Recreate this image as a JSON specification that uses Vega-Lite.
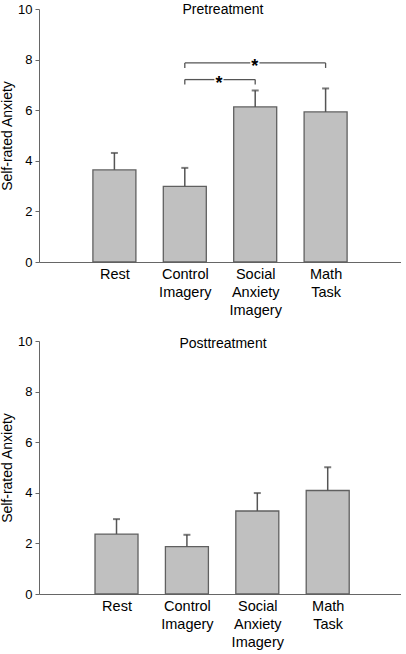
{
  "$schema": "https://vega.github.io/schema/vega-lite/v6.json",
  "background": "white",
  "padding": {"left": 0, "top": 2, "right": 0, "bottom": 0},
  "bounds": "flush",
  "spacing": 79,
  "config": {
    "font": "Liberation Sans",
    "view": {"stroke": null},
    "axis": {"grid": false, "domainColor": "#666666", "tickColor": "#666666", "labelColor": "#000000", "titleColor": "#000000", "labelFont": "Liberation Sans", "titleFont": "Liberation Sans"},
    "title": {"font": "Liberation Sans", "fontSize": 14, "fontWeight": "normal", "color": "#000000"}
  },
  "datasets": {
    "bars": [
      {"panel": "Pretreatment", "pos": 1, "condition": "Rest", "mean": 3.64, "upper": 4.31},
      {"panel": "Pretreatment", "pos": 2, "condition": "Control Imagery", "mean": 2.99, "upper": 3.72},
      {"panel": "Pretreatment", "pos": 3, "condition": "Social Anxiety Imagery", "mean": 6.13, "upper": 6.78},
      {"panel": "Pretreatment", "pos": 4, "condition": "Math Task", "mean": 5.93, "upper": 6.86},
      {"panel": "Posttreatment", "pos": 1, "condition": "Rest", "mean": 2.37, "upper": 2.96},
      {"panel": "Posttreatment", "pos": 2, "condition": "Control Imagery", "mean": 1.87, "upper": 2.34},
      {"panel": "Posttreatment", "pos": 3, "condition": "Social Anxiety Imagery", "mean": 3.28, "upper": 3.99},
      {"panel": "Posttreatment", "pos": 4, "condition": "Math Task", "mean": 4.09, "upper": 5.01}
    ],
    "brackets": [
      {"x": 2, "x2": 2, "y": 7.02, "y2": 7.21},
      {"x": 2, "x2": 2.42, "y": 7.21, "y2": 7.21},
      {"x": 2.55, "x2": 3, "y": 7.21, "y2": 7.21},
      {"x": 3, "x2": 3, "y": 7.21, "y2": 7.02},
      {"x": 2, "x2": 2, "y": 7.67, "y2": 7.87},
      {"x": 2, "x2": 2.93, "y": 7.87, "y2": 7.87},
      {"x": 3.06, "x2": 4, "y": 7.87, "y2": 7.87},
      {"x": 4, "x2": 4, "y": 7.87, "y2": 7.67}
    ],
    "stars": [
      {"x": 2.485, "y": 7.21, "label": "*"},
      {"x": 2.995, "y": 7.87, "label": "*"}
    ]
  },
  "vconcat": [
    {
      "width": 362,
      "height": 253,
      "title": {"text": "Pretreatment", "anchor": "middle", "baseline": "alphabetic", "offset": -24.5, "dx": 3},
      "layer": [
        {
          "data": {"name": "bars"},
          "transform": [{"filter": "datum.panel == 'Pretreatment'"}],
          "mark": {"type": "bar", "size": 43, "fill": "#c0c0c0", "stroke": "#606060", "strokeWidth": 1.3},
          "encoding": {
            "x": {"field": "pos", "type": "quantitative", "scale": {"domain": [0, 5], "nice": false, "zero": false},
              "axis": {"title": null, "values": [1, 2, 3, 4], "ticks": false, "labelFontSize": 14.5, "labelLineHeight": 18.3, "labelPadding": 5,
                "labelExpr": "datum.value == 1 ? 'Rest' : datum.value == 2 ? ['Control', 'Imagery'] : datum.value == 3 ? ['Social', 'Anxiety', 'Imagery'] : ['Math', 'Task']"}},
            "y": {"field": "mean", "type": "quantitative", "scale": {"domain": [0, 10], "nice": false},
              "axis": {"title": "Self-rated Anxiety", "values": [0, 2, 4, 6, 8, 10], "tickSize": 4, "labelFontSize": 13, "labelPadding": 3, "titleFontSize": 14, "titleFontWeight": "normal", "titlePadding": 3}}
          }
        },
        {
          "data": {"name": "bars"},
          "transform": [{"filter": "datum.panel == 'Pretreatment'"}],
          "mark": {"type": "rule", "color": "#555555", "strokeWidth": 1.5},
          "encoding": {
            "x": {"field": "pos", "type": "quantitative"},
            "y": {"field": "mean", "type": "quantitative"},
            "y2": {"field": "upper"}
          }
        },
        {
          "data": {"name": "bars"},
          "transform": [{"filter": "datum.panel == 'Pretreatment'"}],
          "mark": {"type": "tick", "orient": "horizontal", "size": 7, "thickness": 2, "color": "#444444"},
          "encoding": {
            "x": {"field": "pos", "type": "quantitative"},
            "y": {"field": "upper", "type": "quantitative"}
          }
        },
        {
          "data": {"name": "brackets"},
          "mark": {"type": "rule", "color": "#555555", "strokeWidth": 1.3},
          "encoding": {
            "x": {"field": "x", "type": "quantitative"},
            "x2": {"field": "x2"},
            "y": {"field": "y", "type": "quantitative"},
            "y2": {"field": "y2"}
          }
        },
        {
          "data": {"name": "stars"},
          "mark": {"type": "text", "fontSize": 18, "fontWeight": "bold", "baseline": "middle", "align": "center", "dy": 4, "color": "#000000"},
          "encoding": {
            "x": {"field": "x", "type": "quantitative"},
            "y": {"field": "y", "type": "quantitative"},
            "text": {"field": "label"}
          }
        }
      ]
    },
    {
      "width": 362,
      "height": 253,
      "title": {"text": "Posttreatment", "anchor": "middle", "baseline": "alphabetic", "offset": -26.5, "dx": 3},
      "layer": [
        {
          "data": {"name": "bars"},
          "transform": [{"filter": "datum.panel == 'Posttreatment'"}],
          "mark": {"type": "bar", "size": 43, "fill": "#c0c0c0", "stroke": "#606060", "strokeWidth": 1.3},
          "encoding": {
            "x": {"field": "pos", "type": "quantitative", "scale": {"domain": [-0.03, 4.97], "nice": false, "zero": false},
              "axis": {"title": null, "values": [1, 2, 3, 4], "ticks": false, "labelFontSize": 14.5, "labelLineHeight": 18.3, "labelPadding": 5,
                "labelExpr": "datum.value == 1 ? 'Rest' : datum.value == 2 ? ['Control', 'Imagery'] : datum.value == 3 ? ['Social', 'Anxiety', 'Imagery'] : ['Math', 'Task']"}},
            "y": {"field": "mean", "type": "quantitative", "scale": {"domain": [0, 10], "nice": false},
              "axis": {"title": "Self-rated Anxiety", "values": [0, 2, 4, 6, 8, 10], "tickSize": 4, "labelFontSize": 13, "labelPadding": 3, "titleFontSize": 14, "titleFontWeight": "normal", "titlePadding": 3}}
          }
        },
        {
          "data": {"name": "bars"},
          "transform": [{"filter": "datum.panel == 'Posttreatment'"}],
          "mark": {"type": "rule", "color": "#555555", "strokeWidth": 1.5},
          "encoding": {
            "x": {"field": "pos", "type": "quantitative"},
            "y": {"field": "mean", "type": "quantitative"},
            "y2": {"field": "upper"}
          }
        },
        {
          "data": {"name": "bars"},
          "transform": [{"filter": "datum.panel == 'Posttreatment'"}],
          "mark": {"type": "tick", "orient": "horizontal", "size": 7, "thickness": 2, "color": "#444444"},
          "encoding": {
            "x": {"field": "pos", "type": "quantitative"},
            "y": {"field": "upper", "type": "quantitative"}
          }
        }
      ]
    }
  ]
}
